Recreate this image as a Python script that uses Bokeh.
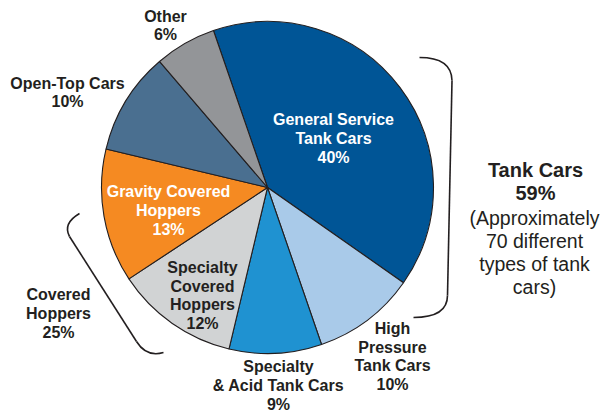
import math
from bokeh.plotting import figure
from bokeh.models import Range1d, ColumnDataSource
from bokeh.core.properties import value
from bokeh.embed import file_html
from bokeh.resources import INLINE

# ---- data ----
categories = ["General Service Tank Cars", "High Pressure Tank Cars",
              "Specialty & Acid Tank Cars", "Specialty Covered Hoppers",
              "Gravity Covered Hoppers", "Open-Top Cars", "Other"]
shares = [40, 10, 9, 12, 13, 10, 6]
labels = ["General Service\nTank Cars\n40%", "High\nPressure\nTank Cars\n10%",
          "Specialty\n& Acid Tank Cars\n9%", "Specialty\nCovered\nHoppers\n12%",
          "Gravity Covered\nHoppers\n13%", "Open-Top Cars\n10%", "Other\n6%"]
colors = ["#005596", "#A9CAE9", "#1F92D1", "#D1D3D4", "#F58A22", "#4A6F90", "#939598"]
label_colors = ["white", "#231F20", "#231F20", "#231F20", "white", "#231F20", "#231F20"]
# label anchor points (pixel coordinates, y from top)
label_x = [333, 392, 278, 202, 168, 67, 165]
label_y = [138, 356, 385, 295, 210, 92, 25]

group_titles = ["Tank Cars\n59%", "Covered\nHoppers\n25%"]
tank_note = "(Approximately\n70 different\ntypes of tank\ncars)"

W, H = 602, 412
CX, CY, R = 267, 187, 166
START_DEG = 109.0

total = float(sum(shares))
cum = 0.0
starts, ends = [], []
for s in shares:
    a_hi = math.radians(START_DEG) - 2 * math.pi * cum / total
    cum += s
    a_lo = math.radians(START_DEG) - 2 * math.pi * cum / total
    starts.append(a_lo)
    ends.append(a_hi)

src = ColumnDataSource(dict(cat=categories, share=shares, start=starts, end=ends,
                            color=colors))

p = figure(width=W, height=H, x_range=Range1d(0, W), y_range=Range1d(0, H),
           output_backend="svg", toolbar_location=None,
           x_axis_location=None, y_axis_location=None, min_border=0)
p.grid.visible = False
p.outline_line_color = None
p.background_fill_color = "white"

p.wedge(x=CX, y=H - CY, radius=R, start_angle="start", end_angle="end",
        fill_color="color", line_color="#231F20", line_width=1.1, source=src)

lsrc = ColumnDataSource(dict(x=label_x, y=[H - v for v in label_y], text=labels,
                             color=label_colors))
p.text(x="x", y="y", text="text", text_color="color", source=lsrc,
       text_font=value("Liberation Sans"), text_font_style="bold",
       text_font_size="16px", text_align="center", text_baseline="middle",
       text_line_height=1.1)

# group labels
p.text(x=[535], y=[H - 181], text=[group_titles[0]], text_color="#231F20",
       text_font=value("Liberation Sans"), text_font_style="bold",
       text_font_size="20px", text_align="center", text_baseline="middle",
       text_line_height=1.08)
p.text(x=[534], y=[H - 252], text=[tank_note], text_color="#231F20",
       text_font=value("Liberation Sans"), text_font_size="19.5px",
       text_align="center", text_baseline="middle", text_line_height=1.05)
p.text(x=[58], y=[H - 313], text=[group_titles[1]], text_color="#231F20",
       text_font=value("Liberation Sans"), text_font_style="bold",
       text_font_size="16px", text_align="center", text_baseline="middle",
       text_line_height=1.1)

# brackets
bk = "#231F20"
p.quadratic(x0=[419, 447], y0=[H - 57, H - 295], x1=[451.5, 413], y1=[H - 80, H - 317],
            cx=[451, 447], cy=[H - 57, H - 317], line_color=bk, line_width=1.6)
p.segment(x0=[451.5], y0=[H - 80], x1=[447], y1=[H - 295], line_color=bk, line_width=1.6)

p.quadratic(x0=[79, 136], y0=[H - 213, H - 341], x1=[69, 163], y1=[H - 236, H - 352],
            cx=[62, 146], cy=[H - 223, H - 357], line_color=bk, line_width=1.6)
p.segment(x0=[69], y0=[H - 236], x1=[136], y1=[H - 341], line_color=bk, line_width=1.6)

open("out.html", "w").write(file_html(p, INLINE))
